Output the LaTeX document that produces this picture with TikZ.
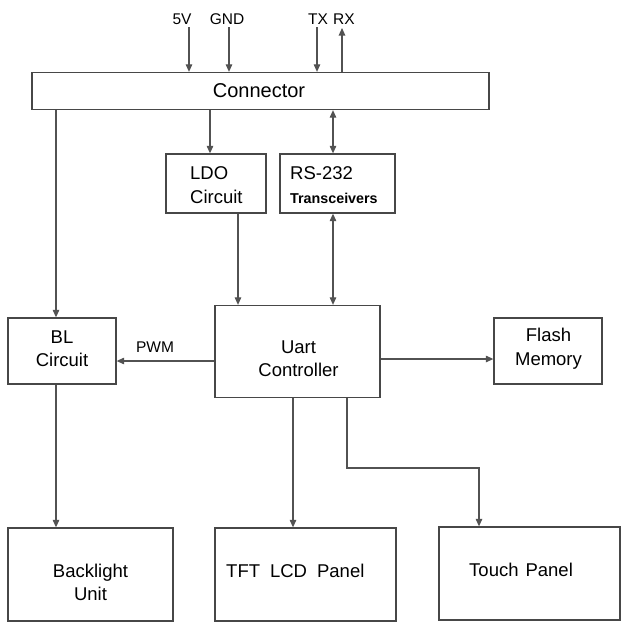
\documentclass[tikz,border=0pt]{standalone}
\usepackage{fontspec}
\setmainfont{Liberation Sans}
\usetikzlibrary{arrows.meta}
\begin{document}
\begin{tikzpicture}[x=1pt,y=-1pt,
  box/.style={draw=black!72, line width=1.3pt, inner sep=0pt},
  txt/.style={inner sep=0pt, align=center, font=\fontsize{18.5}{23.5}\selectfont},
  txtl/.style={txt, align=left, anchor=west},
  conn/.style={draw=black!68, line width=1.1pt, -{Triangle[length=7.5pt,width=6.5pt]}},
  both/.style={draw=black!68, line width=1.1pt, {Triangle[length=7.5pt,width=6.5pt]}-{Triangle[length=7.5pt,width=6.5pt]}},
  lbl/.style={inner sep=0pt, font=\fontsize{15.5}{18}\selectfont}]
\useasboundingbox (0,0) rectangle (629,632);
\fill[white] (0,0) rectangle (629,632);

% boxes
\node[box, minimum width=457, minimum height=37] (con) at (260.5,91) {};
\node[txt, font=\fontsize{20}{24}\selectfont] (conT) at (259,91) {Connector};

\node[box, minimum width=100, minimum height=59] (ldo) at (216,183.5) {};
\node[txtl] (ldoT) at (190,185) {LDO\\Circuit};

\node[box, minimum width=115, minimum height=59] (rs) at (337.5,183.5) {};
\node[txtl] (rsT) at (290,185) {RS-232\\{\fontsize{14.3}{17}\selectfont\bfseries Transceivers}};

\node[box, minimum width=108, minimum height=66] (bl) at (62,351) {};
\node[txt] (blT) at (62,348.5) {BL\\Circuit};

\node[box, minimum width=165, minimum height=92] (uart) at (297.5,351.5) {};
\node[txt] (uartT) at (298.5,358.5) {Uart\\Controller};

\node[box, minimum width=108, minimum height=66] (flash) at (548,351) {};
\node[txt] (flashT) at (548.5,348.5) {Flash\\Memory};

\node[box, minimum width=165, minimum height=93] (bu) at (90.5,574.5) {};
\node[txt] (buT) at (90.5,582.5) {Backlight\\Unit};

\node[box, minimum width=181, minimum height=93] (tft) at (305.5,574.5) {};
\node[txtl] (tftT) at (226,571) {TFT\hspace{10pt}LCD\hspace{10pt}Panel};

\node[box, minimum width=181, minimum height=93] (touch) at (529.5,573.5) {};
\node[txtl] (touchT) at (469,570) {Touch\hspace{7pt}Panel};

% input labels
\node[lbl] (l5v) at (182,19.5) {5V};
\node[lbl] (lgnd) at (227,19.5) {GND};
\node[lbl] (ltx) at (318,19.5) {TX};
\node[lbl] (lrx) at (344,19.5) {RX};
\node[lbl] (lpwm) at (155,347.5) {PWM};

% helper coordinates
\coordinate (c5v) at (189,27);
\coordinate (cgnd) at (229,27);
\coordinate (ctx) at (317,27);
\coordinate (crx) at (342,28);
\coordinate (x210) at (210,0);
\coordinate (x238) at (238,0);
\coordinate (x333) at (333,0);
\coordinate (x56) at (56,0);
\coordinate (x293) at (293,0);
\coordinate (x347) at (347,0);
\coordinate (y361) at (0,361);
\coordinate (y359) at (0,359);
\coordinate (tb) at (479,468);

% connectors
\draw[conn] (c5v) -- (c5v |- con.north);
\draw[conn] (cgnd) -- (cgnd |- con.north);
\draw[conn] (ctx) -- (ctx |- con.north);
\draw[conn] (crx |- con.north) -- (crx);

\draw[conn] (con.south -| x210) -- (ldo.north -| x210);
\draw[both] (con.south -| x333) -- (rs.north -| x333);
\draw[conn] (ldo.south -| x238) -- (uart.north -| x238);
\draw[both] (rs.south -| x333) -- (uart.north -| x333);
\draw[conn] (con.south -| x56) -- (bl.north -| x56);
\draw[conn] (uart.west |- y361) -- (bl.east |- y361);
\draw[conn] (uart.east |- y359) -- (flash.west |- y359);
\draw[conn] (bl.south -| x56) -- (bu.north -| x56);
\draw[conn] (uart.south -| x293) -- (tft.north -| x293);
\draw[conn] (uart.south -| x347) |- (tb) -- (touch.north -| tb);
\end{tikzpicture}
\end{document}
